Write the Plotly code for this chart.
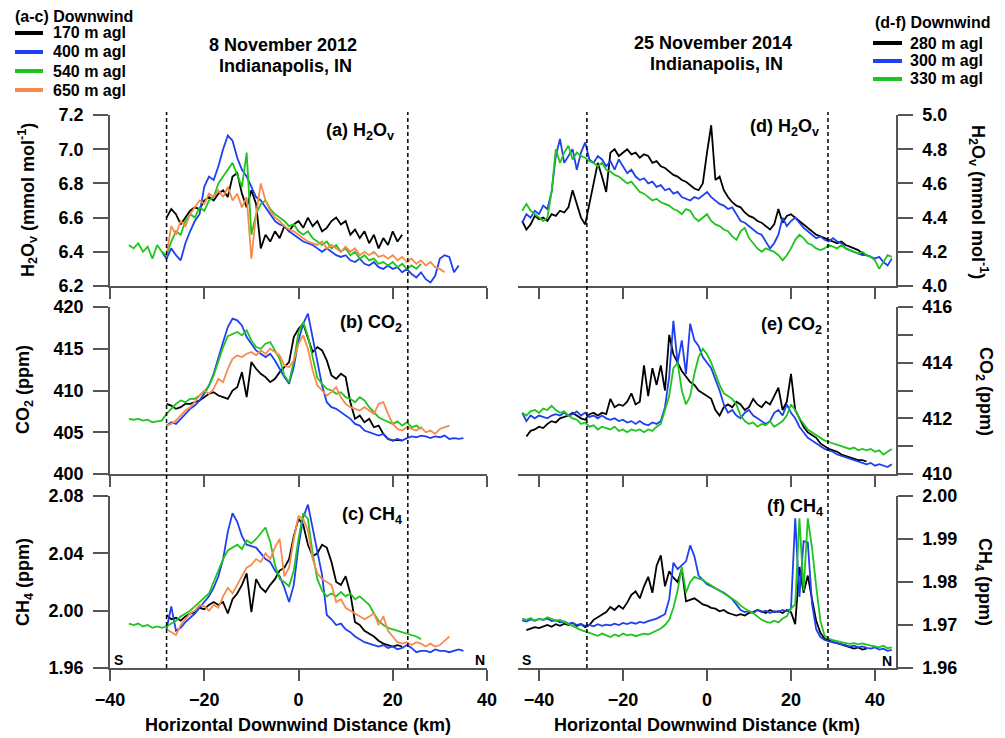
import plotly.graph_objects as go

# ---------------- data (1 km sampling) ----------------
# (a) H2Ov, 8 Nov 2012 (mmol/mol)
a_start = {"170": -28, "400": -29, "540": -36, "650": -28}
a_170 = [6.60,6.65,6.62,6.56,6.60,6.64,6.66,6.65,6.70,6.72,6.70,6.74,6.76,6.72,6.84,6.86,6.74,6.66,6.76,6.68,
         6.42,6.50,6.46,6.52,6.48,6.55,6.52,6.56,6.58,6.54,6.60,6.55,6.58,6.52,6.54,6.58,6.60,6.56,6.58,6.50,
         6.53,6.48,6.52,6.45,6.50,6.42,6.48,6.44,6.52,6.46,6.50]
a_400 = [6.40,6.36,6.42,6.38,6.35,6.45,6.52,6.58,6.62,6.78,6.84,6.82,6.90,7.00,7.08,7.05,6.95,6.88,6.84,6.78,
         6.72,6.70,6.66,6.62,6.58,6.56,6.55,6.52,6.50,6.48,6.46,6.45,6.44,6.42,6.40,6.42,6.40,6.38,6.37,6.38,
         6.35,6.34,6.36,6.33,6.32,6.34,6.31,6.30,6.32,6.30,6.31,6.28,6.30,6.27,6.25,6.28,6.24,6.22,6.26,6.36,
         6.38,6.37,6.28,6.32]
a_540 = [6.44,6.42,6.45,6.40,6.43,6.36,6.44,6.40,6.38,6.46,6.52,6.50,6.58,6.62,6.60,6.66,6.64,6.70,6.72,6.80,
         6.84,6.88,6.92,6.85,6.78,6.98,6.50,6.62,6.68,6.70,6.65,6.62,6.60,6.58,6.55,6.56,6.52,6.50,6.52,6.48,
         6.46,6.44,6.46,6.42,6.44,6.40,6.42,6.38,6.40,6.36,6.38,6.35,6.36,6.33,6.34,6.32,6.34,6.31,6.33,6.30,
         6.32,6.30,6.33]
a_650 = [6.38,6.55,6.50,6.58,6.55,6.62,6.66,6.70,6.68,6.74,6.72,6.76,6.72,6.78,6.70,6.74,6.66,6.72,6.36,6.62,
         6.80,6.70,6.64,6.60,6.58,6.55,6.53,6.52,6.50,6.48,6.46,6.45,6.44,6.46,6.42,6.44,6.42,6.40,6.43,6.40,
         6.42,6.38,6.40,6.38,6.40,6.37,6.38,6.36,6.38,6.35,6.37,6.34,6.36,6.33,6.35,6.32,6.34,6.31,6.30,6.28]

# (b) CO2, 8 Nov 2012 (ppm)
b_start = {"170": -28, "400": -28, "540": -36, "650": -28}
b_170 = [408.4,408.2,407.8,408.0,408.4,408.4,408.6,408.8,409.2,409.6,409.8,409.4,409.2,409.0,410.0,410.4,412.2,
         409.2,413.4,412.6,412.0,411.6,411.0,411.4,412.2,412.8,413.4,416.4,417.4,418.0,416.2,414.6,415.2,414.8,
         413.6,411.8,411.4,412.0,411.6,408.6,406.6,407.0,406.2,406.6,405.6,405.8,404.8,404.2,404.0,404.1,404.0]
b_400 = [405.8,406.2,406.0,406.6,407.2,407.8,408.2,408.8,409.6,410.6,412.0,414.0,415.8,417.6,418.6,418.4,417.8,
         416.4,415.6,414.8,414.4,414.0,414.4,413.6,412.6,411.6,410.8,412.8,416.0,418.0,419.2,416.4,413.2,410.6,
         408.6,408.0,407.8,407.4,407.0,406.6,406.0,405.8,405.2,405.0,404.8,404.6,404.8,404.2,404.0,404.2,404.0,
         404.3,404.5,404.4,404.6,404.5,404.3,404.5,404.4,404.6,404.2,404.3,404.2,404.3]
b_540 = [406.6,406.5,406.6,406.4,406.5,406.2,406.3,406.4,407.2,407.8,408.4,408.8,408.6,409.0,409.0,409.4,409.8,
         410.6,411.8,413.5,415.2,416.5,416.8,417.0,416.6,417.2,416.0,415.2,415.0,415.6,415.8,414.8,413.8,411.8,
         411.0,413.5,417.0,418.2,416.5,414.0,411.5,410.8,410.2,410.0,409.6,409.8,409.2,409.0,408.6,409.2,408.8,
         408.0,407.4,406.8,406.5,406.2,406.0,406.3,405.8,406.2,405.6,405.8,405.4]
b_650 = [405.8,406.0,406.4,407.0,407.6,408.0,408.6,409.4,410.0,409.6,410.2,411.4,411.0,412.6,413.8,414.2,414.0,
         414.4,414.6,414.2,414.8,414.4,415.0,414.6,414.2,413.0,412.8,413.6,415.6,416.6,415.0,412.4,410.6,410.0,
         409.4,409.8,410.4,409.2,408.4,408.0,407.8,407.6,408.0,407.6,407.2,408.4,408.6,407.2,406.0,405.4,405.2,
         405.6,405.4,405.2,405.6,405.0,405.2,404.8,405.4,405.6,405.8]

# (c) CH4, 8 Nov 2012 (ppm)
c_start = {"170": -28, "400": -28, "540": -36, "650": -28}
c_170 = [1.997,1.994,1.995,1.993,1.996,1.998,1.999,2.002,2.001,2.004,2.006,2.004,2.006,1.998,2.008,2.012,2.018,
         2.026,1.999,2.022,2.016,2.013,2.018,2.022,2.028,2.030,2.036,2.052,2.064,2.060,2.046,2.038,2.040,2.046,
         2.044,2.034,2.020,2.018,2.024,2.012,1.992,1.990,1.986,1.984,1.982,1.979,1.977,1.976,1.975,1.976,1.975]
c_400 = [1.987,2.003,1.986,1.988,1.992,1.995,1.998,2.002,2.006,2.010,2.016,2.024,2.036,2.055,2.068,2.062,2.052,
         2.046,2.045,2.044,2.040,2.036,2.034,2.028,2.024,2.016,2.006,2.018,2.045,2.065,2.074,2.058,2.040,2.025,
         1.997,1.994,1.990,1.991,1.987,1.985,1.982,1.980,1.978,1.977,1.976,1.975,1.976,1.974,1.975,1.973,1.974,
         1.976,1.974,1.971,1.972,1.972,1.971,1.973,1.972,1.972,1.971,1.972,1.973,1.972]
c_540 = [1.991,1.990,1.991,1.989,1.990,1.988,1.989,1.988,1.989,1.991,1.993,1.996,1.998,2.000,2.003,2.006,2.009,
         2.012,2.020,2.028,2.036,2.042,2.044,2.046,2.043,2.049,2.047,2.050,2.054,2.058,2.048,2.032,2.022,2.020,
         2.017,2.028,2.050,2.068,2.064,2.040,2.022,2.014,2.010,2.012,2.010,2.013,2.010,2.012,2.008,2.010,2.007,
         2.004,1.998,1.993,1.990,1.988,1.987,1.986,1.985,1.984,1.983,1.982,1.980]
c_650 = [1.987,1.985,1.983,1.990,1.994,1.998,2.000,2.004,2.003,2.000,2.004,2.002,2.010,2.016,2.012,2.018,2.024,
         2.030,2.032,2.036,2.034,2.040,2.036,2.044,2.050,2.024,2.030,2.050,2.066,2.064,2.056,2.036,2.026,2.022,
         2.020,2.018,2.006,2.008,2.002,2.000,1.998,1.996,1.994,1.996,1.998,1.990,1.996,1.986,1.982,1.978,1.977,
         1.978,1.976,1.978,1.977,1.975,1.977,1.975,1.976,1.979,1.982]

# (d) H2Ov, 25 Nov 2014 (mmol/mol)
d_start = {"280": -44, "300": -44, "330": -44}
d_280 = [4.38,4.33,4.36,4.41,4.39,4.40,4.38,4.42,4.41,4.44,4.43,4.46,4.56,4.48,4.40,4.36,4.48,4.62,4.72,4.64,
         4.55,4.78,4.80,4.76,4.78,4.80,4.77,4.78,4.75,4.77,4.76,4.72,4.73,4.70,4.69,4.67,4.65,4.64,4.62,4.61,
         4.59,4.57,4.56,4.60,4.78,4.94,4.62,4.64,4.56,4.52,4.49,4.47,4.46,4.43,4.41,4.40,4.38,4.37,4.35,4.33,
         4.36,4.45,4.37,4.41,4.42,4.40,4.38,4.36,4.34,4.32,4.30,4.29,4.28,4.27,4.26,4.25,4.26,4.24,4.23,4.22,
         4.21,4.19,4.18,4.17]
d_300 = [4.37,4.42,4.40,4.44,4.42,4.47,4.45,4.55,4.76,4.86,4.72,4.76,4.80,4.68,4.78,4.84,4.74,4.72,4.76,4.74,
         4.70,4.73,4.68,4.74,4.70,4.66,4.68,4.64,4.62,4.63,4.60,4.61,4.58,4.59,4.56,4.57,4.54,4.55,4.52,4.51,
         4.50,4.52,4.51,4.53,4.55,4.52,4.50,4.48,4.47,4.45,4.46,4.42,4.38,4.37,4.35,4.33,4.31,4.30,4.26,4.22,
         4.25,4.30,4.40,4.35,4.38,4.40,4.37,4.34,4.32,4.30,4.28,4.29,4.27,4.26,4.28,4.26,4.25,4.22,4.21,4.20,
         4.19,4.18,4.18,4.17,4.16,4.17,4.14,4.12,4.16]
d_330 = [4.44,4.48,4.44,4.42,4.40,4.38,4.40,4.55,4.80,4.72,4.78,4.82,4.74,4.78,4.76,4.75,4.73,4.72,4.70,4.72,
         4.68,4.67,4.65,4.64,4.62,4.60,4.61,4.58,4.55,4.54,4.52,4.50,4.51,4.49,4.48,4.47,4.45,4.44,4.42,4.45,
         4.44,4.40,4.38,4.40,4.42,4.38,4.36,4.35,4.33,4.32,4.29,4.27,4.32,4.34,4.28,4.25,4.22,4.20,4.22,4.21,
         4.20,4.18,4.15,4.18,4.22,4.27,4.30,4.28,4.25,4.24,4.22,4.21,4.22,4.24,4.23,4.22,4.24,4.22,4.21,4.20,
         4.19,4.20,4.18,4.17,4.15,4.10,4.14,4.18,4.17]

# (e) CO2, 25 Nov 2014 (ppm)
e_start = {"280": -43, "300": -44, "330": -44}
e_280 = [411.35,411.55,411.6,411.7,411.65,411.8,411.9,411.85,412.0,412.05,412.1,412.2,412.1,412.0,411.95,412.15,
         412.2,412.1,412.2,412.15,412.7,412.4,412.5,412.45,412.6,412.9,412.5,412.6,413.9,412.8,413.8,413.2,413.9,
         413.0,415.0,414.3,414.0,413.7,413.5,413.3,413.2,413.0,412.9,412.8,412.7,412.3,412.1,412.4,412.5,412.4,
         412.6,412.5,412.3,412.4,412.7,412.5,412.4,412.6,412.5,412.8,413.1,412.3,412.6,413.6,412.3,412.0,411.7,
         411.5,411.4,411.3,411.1,411.0,410.9,410.85,410.8,410.7,410.65,410.6,410.55,410.5,410.5,410.45]
e_300 = [412.2,411.9,412.1,412.0,412.1,412.05,412.0,412.1,412.15,412.1,412.2,412.1,412.15,412.25,412.1,412.2,
         412.05,412.1,412.0,412.1,412.0,411.95,412.0,411.9,411.95,411.85,411.9,411.8,411.9,411.8,411.75,411.85,
         411.8,411.9,412.4,413.5,415.5,414.0,414.8,413.6,415.4,414.8,414.6,414.2,414.0,413.8,413.4,413.0,412.5,
         412.2,412.3,412.1,412.0,412.2,412.3,412.1,412.0,411.9,411.8,411.9,412.2,412.3,412.1,412.5,412.2,412.0,
         411.7,411.5,411.3,411.2,411.1,411.0,410.9,410.85,410.8,410.7,410.65,410.6,410.55,410.5,410.45,410.4,
         410.35,410.4,410.3,410.35,410.3,410.25,410.35]
e_330 = [412.2,412.1,412.25,412.3,412.2,412.35,412.3,412.45,412.3,412.2,412.25,412.1,412.0,411.95,411.8,411.85,
         411.7,411.75,411.6,411.7,411.65,411.6,411.7,411.55,411.6,411.5,411.6,411.55,411.6,411.5,411.6,411.55,
         411.7,411.8,412.3,412.8,413.8,414.0,413.0,412.5,412.8,413.6,414.2,414.5,414.3,414.0,413.6,413.2,412.9,
         412.8,412.7,412.5,412.1,411.9,411.8,411.85,411.7,411.8,411.75,411.9,411.7,411.8,411.9,412.1,412.5,412.3,
         412.0,411.8,411.6,411.5,411.4,411.3,411.2,411.15,411.1,411.05,411.0,410.95,410.9,410.95,410.85,410.9,
         410.85,410.9,410.8,410.85,410.7,410.8,410.9]

# (f) CH4, 25 Nov 2014 (ppm)
f_start = {"280": -43, "300": -44, "330": -44}
f_280 = [1.9688,1.9692,1.9695,1.9693,1.9697,1.9700,1.9696,1.9702,1.9698,1.9703,1.9700,1.9705,1.9698,1.9702,
         1.9695,1.9700,1.9712,1.9718,1.9722,1.9730,1.9742,1.9735,1.9745,1.9738,1.9752,1.9770,1.9778,1.9762,
         1.9790,1.9812,1.9775,1.9838,1.9862,1.9790,1.9825,1.9810,1.9800,1.9830,1.9755,1.9758,1.9762,1.9755,
         1.9748,1.9745,1.9740,1.9738,1.9732,1.9735,1.9728,1.9725,1.9722,1.9725,1.9722,1.9728,1.9730,1.9735,
         1.9732,1.9728,1.9735,1.9730,1.9732,1.9728,1.9735,1.9730,1.9702,1.9835,1.9775,1.9815,1.9760,1.9710,
         1.9682,1.9668,1.9665,1.9660,1.9658,1.9655,1.9652,1.9648,1.9645,1.9648,1.9643,1.9645]
f_300 = [1.9711,1.9708,1.9713,1.9710,1.9714,1.9712,1.9715,1.9709,1.9711,1.9706,1.9708,1.9703,1.9705,1.9700,
         1.9702,1.9698,1.9700,1.9697,1.9702,1.9698,1.9701,1.9699,1.9703,1.9700,1.9705,1.9702,1.9706,1.9703,
         1.9707,1.9705,1.9709,1.9712,1.9715,1.9720,1.9725,1.9760,1.9845,1.9830,1.9838,1.9848,1.9885,1.9860,
         1.9815,1.9805,1.9795,1.9790,1.9785,1.9780,1.9775,1.9768,1.9760,1.9748,1.9735,1.9730,1.9732,1.9728,
         1.9735,1.9730,1.9733,1.9728,1.9732,1.9730,1.9735,1.9732,1.9738,1.9948,1.9765,1.9895,1.9892,1.9750,
         1.9690,1.9672,1.9665,1.9662,1.9660,1.9658,1.9655,1.9653,1.9650,1.9652,1.9648,1.9650,1.9647,1.9645,
         1.9648,1.9643,1.9645,1.9640,1.9642]
f_330 = [1.9715,1.9712,1.9716,1.9710,1.9714,1.9712,1.9718,1.9714,1.9710,1.9712,1.9706,1.9702,1.9698,1.9692,
         1.9688,1.9685,1.9682,1.9678,1.9675,1.9680,1.9676,1.9672,1.9678,1.9674,1.9680,1.9676,1.9678,1.9674,
         1.9677,1.9680,1.9678,1.9683,1.9688,1.9692,1.9700,1.9712,1.9740,1.9780,1.9835,1.9775,1.9800,1.9812,
         1.9808,1.9805,1.9798,1.9792,1.9785,1.9780,1.9775,1.9768,1.9762,1.9755,1.9745,1.9738,1.9732,1.9728,
         1.9720,1.9712,1.9708,1.9705,1.9710,1.9706,1.9715,1.9720,1.9738,1.9748,1.9948,1.9780,1.9948,1.9880,
         1.9790,1.9710,1.9675,1.9668,1.9665,1.9662,1.9660,1.9658,1.9656,1.9658,1.9655,1.9657,1.9654,1.9652,
         1.9650,1.9648,1.9652,1.9646,1.9648]

# city-boundary markers (km)
left_bounds = [-28.0, 23.2]
right_bounds = [-28.6, 28.8]

left_labels = ["170 m agl", "400 m agl", "540 m agl", "650 m agl"]
right_labels = ["280 m agl", "300 m agl", "330 m agl"]

# ---------------- styling ----------------
W, H = 1005, 738
FONT = "Liberation Sans, Arial, sans-serif"
AX = "#555555"
COL = {"black": "#000000", "blue": "#1f3ff0", "green": "#1fc41f", "orange": "#f78b4c"}
left_cols = [COL["black"], COL["blue"], COL["green"], COL["orange"]]
right_cols = [COL["black"], COL["blue"], COL["green"]]


def px(x):
    return x / W


def py(y):
    return 1 - y / H


def xs(start, vals):
    return [start + i for i in range(len(vals))]


fig = go.Figure()

panels = [
    ("x", "y", a_start, [("170", a_170), ("400", a_400), ("540", a_540), ("650", a_650)], left_cols),
    ("x3", "y3", b_start, [("170", b_170), ("400", b_400), ("540", b_540), ("650", b_650)], left_cols),
    ("x5", "y5", c_start, [("170", c_170), ("400", c_400), ("540", c_540), ("650", c_650)], left_cols),
    ("x2", "y2", d_start, [("280", d_280), ("300", d_300), ("330", d_330)], right_cols),
    ("x4", "y4", e_start, [("280", e_280), ("300", e_300), ("330", e_330)], right_cols),
    ("x6", "y6", f_start, [("280", f_280), ("300", f_300), ("330", f_330)], right_cols),
]
for xa, ya, starts, series, cols in panels:
    for (key, vals), c in zip(series, cols):
        fig.add_trace(go.Scatter(x=xs(starts[key], vals), y=vals, mode="lines",
                                 line=dict(color=c, width=1.8), xaxis=xa, yaxis=ya,
                                 showlegend=False, name=key + " m agl"))

LX = [px(110), px(487)]
RX = [px(518), px(896)]
ROWS = [[py(286), py(115)], [py(474), py(307)], [py(668), py(496)]]
tickfont = dict(family=FONT, size=18, color="black", weight="bold")

common_x = dict(showline=True, linecolor=AX, linewidth=1.5, ticks="outside", ticklen=11,
                tickcolor=AX, tickwidth=1.5, showgrid=False, zeroline=False, automargin=False,
                tickvals=[-40, -20, 0, 20, 40], tickfont=tickfont, ticklabelstandoff=4)
common_y = dict(showline=True, linecolor=AX, linewidth=1.5, ticks="outside", ticklen=15,
                tickcolor=AX, tickwidth=1.5, showgrid=False, zeroline=False, automargin=False,
                tickfont=tickfont, ticklabelstandoff=6)

layout_axes = {}
for i, (col_dom, rng, side) in enumerate([(LX, [-40, 40], "left"), (RX, [-45, 45], "right")]):
    for r in range(3):
        n = r * 2 + i + 1
        sfx = "" if n == 1 else str(n)
        layout_axes["xaxis" + sfx] = dict(common_x, domain=col_dom, range=rng, anchor="y" + sfx,
                                          showticklabels=(r == 2))
        layout_axes["yaxis" + sfx] = dict(common_y, domain=ROWS[r], anchor="x" + sfx, side=side)

layout_axes["yaxis"].update(range=[6.2, 7.2], tickvals=[6.2, 6.4, 6.6, 6.8, 7.0, 7.2], tickformat=".1f")
layout_axes["yaxis3"].update(range=[400, 420], tickvals=[400, 405, 410, 415, 420])
layout_axes["yaxis5"].update(range=[1.96, 2.08], tickvals=[1.96, 2.00, 2.04, 2.08], tickformat=".2f")
layout_axes["yaxis2"].update(range=[4.0, 5.0], tickvals=[4.0, 4.2, 4.4, 4.6, 4.8, 5.0], tickformat=".1f")
layout_axes["yaxis4"].update(range=[410, 416], tickvals=[410, 411, 412, 413, 414, 415, 416],
                             ticktext=["410", "", "412", "", "414", "", "416"])
layout_axes["yaxis6"].update(range=[1.96, 2.00], tickvals=[1.96, 1.97, 1.98, 1.99, 2.00], tickformat=".2f")

shapes = []
for xv in left_bounds:
    shapes.append(dict(type="line", xref="x", yref="paper", x0=xv, x1=xv, y0=py(668), y1=py(112),
                       line=dict(color="black", width=1.5, dash="4px,3px")))
for xv in right_bounds:
    shapes.append(dict(type="line", xref="x2", yref="paper", x0=xv, x1=xv, y0=py(668), y1=py(112),
                       line=dict(color="black", width=1.5, dash="4px,3px")))

ann = []


def text(t, x, y, size=18, xa="center", ya="middle", angle=0):
    ann.append(dict(text=t, x=px(x), y=py(y), xref="paper", yref="paper", showarrow=False,
                    xanchor=xa, yanchor=ya, textangle=angle,
                    font=dict(family=FONT, size=size, color="black", weight="bold")))


# legends
text("(a-c) Downwind", 13, 16, 16, xa="left")
for i, (lab, c) in enumerate(zip(left_labels, left_cols)):
    yy = [33, 52, 71, 90][i]
    shapes.append(dict(type="line", xref="paper", yref="paper", x0=px(15), x1=px(43), y0=py(yy), y1=py(yy),
                       line=dict(color=c, width=4)))
    text(lab, 51, yy, 16, xa="left")
text("(d-f) Downwind", 873, 22, 16, xa="left")
for i, (lab, c) in enumerate(zip(right_labels, right_cols)):
    yy = [43, 61, 79][i]
    shapes.append(dict(type="line", xref="paper", yref="paper", x0=px(873), x1=px(902), y0=py(yy), y1=py(yy),
                       line=dict(color=c, width=4)))
    text(lab, 908, yy, 16, xa="left")

# titles
text("8 November 2012", 283, 45)
text("Indianapolis, IN", 285, 66)
text("25 November 2014", 713, 43)
text("Indianapolis, IN", 716, 64)

# panel labels
text("(a) H<sub>2</sub>O<sub>v</sub>", 396, 132, xa="right")
text("(b) CO<sub>2</sub>", 404, 324, xa="right")
text("(c) CH<sub>4</sub>", 404, 515, xa="right")
text("(d) H<sub>2</sub>O<sub>v</sub>", 821, 127, xa="right")
text("(e) CO<sub>2</sub>", 824, 325, xa="right")
text("(f) CH<sub>4</sub>", 825, 507, xa="right")

# S / N
text("S", 112, 660, 14, xa="left")
text("N", 487, 660, 14, xa="right")
text("S", 520, 660, 14, xa="left")
text("N", 894, 661, 14, xa="right")

# axis titles
text("Horizontal Downwind Distance (km)", 298, 725)
text("Horizontal Downwind Distance (km)", 707, 725)
text("H<sub>2</sub>O<sub>v</sub> (mmol mol<sup>-1</sup>)", 28, 200, angle=-90)
text("CO<sub>2</sub> (ppm)", 24, 390, angle=-90)
text("CH<sub>4</sub> (ppm)", 24, 582, angle=-90)
text("H<sub>2</sub>O<sub>v</sub> (mmol mol<sup>-1</sup>)", 979, 202, angle=90)
text("CO<sub>2</sub> (ppm)", 985, 391, angle=90)
text("CH<sub>4</sub> (ppm)", 984, 582, angle=90)

fig.update_layout(width=W, height=H, margin=dict(l=0, r=0, t=0, b=0),
                  paper_bgcolor="white", plot_bgcolor="white", showlegend=False,
                  shapes=shapes, annotations=ann, **layout_axes)
fig.write_html("out.html")
